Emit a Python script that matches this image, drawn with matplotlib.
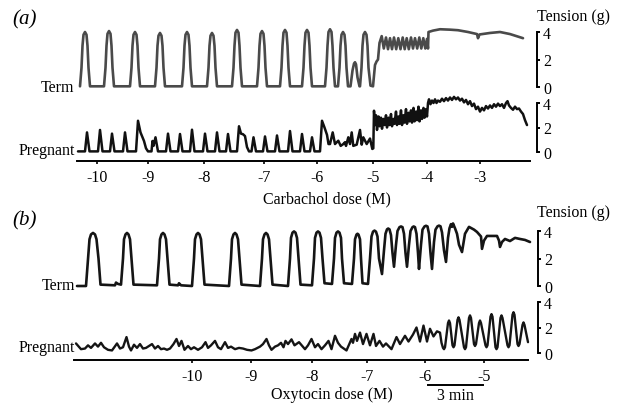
import matplotlib

matplotlib.use("Agg")
import matplotlib.pyplot as plt
import matplotlib.transforms as mtransforms
import numpy as np

plt.rcParams["font.family"] = ["Liberation Serif", "DejaVu Serif"]

# Traces: (time in chart units, tension in g).
# 55 chart units = 3 min (see the scale bar).
TERM_A = [
    (80, 0.05), (81.5, 1.4), (82.5, 3.0), (83.5, 3.8), (85, 4.0), (86.5, 3.8), (87.5, 3.0), (88.5, 1.4), (90, 0.05),
    (104, 0.05), (105.5, 1.4), (106.5, 3.0), (107.5, 3.87), (109, 4.07), (110.5, 3.87), (111.5, 3.0), (112.5, 1.4), (114, 0.05),
    (130, 0.05), (131.5, 1.4), (132.5, 3.0), (133.5, 3.8), (135, 4.0), (136.5, 3.8), (137.5, 3.0), (138.5, 1.4), (140, 0.05),
    (155, 0.05), (156.5, 1.4), (157.5, 3.0), (158.5, 3.73), (160, 3.93), (161.5, 3.73), (162.5, 3.0), (163.5, 1.4), (165, 0.05),
    (182, 0.05), (183.5, 1.4), (184.5, 3.0), (185.5, 3.8), (187, 4.0), (188.5, 3.8), (189.5, 3.0), (190.5, 1.4), (192, 0.05),
    (207, 0.05), (208.5, 1.4), (209.5, 3.0), (210.5, 3.73), (212, 3.93), (213.5, 3.73), (214.5, 3.0), (215.5, 1.4), (217, 0.05),
    (232, 0.05), (233.5, 1.4), (234.5, 3.0), (235.5, 3.95), (237, 4.15), (238.5, 3.95), (239.5, 3.0), (240.5, 1.4), (242, 0.05),
    (257, 0.05), (258.5, 1.4), (259.5, 3.0), (260.5, 3.87), (262, 4.07), (263.5, 3.87), (264.5, 3.0), (265.5, 1.4), (267, 0.05),
    (280, 0.05), (281.5, 1.4), (282.5, 3.0), (283.5, 3.95), (285, 4.15), (286.5, 3.95), (287.5, 3.0), (288.5, 1.4), (290, 0.05),
    (302, 0.05), (303.5, 1.4), (304.5, 3.0), (305.5, 3.95), (307, 4.15), (308.5, 3.95), (309.5, 3.0), (310.5, 1.4), (312, 0.05),
    (325, 0.05), (326.5, 1.4), (327.5, 3.0), (328.5, 4.0), (330, 4.2), (331.5, 4.0), (332.5, 3.0), (333.5, 1.4), (335, 0.05),
    (338, 0.05), (339.5, 1.4), (340.5, 3.0), (341.5, 3.8), (343, 4.0), (344.5, 3.8), (345.5, 3.0), (346.5, 1.4), (348, 0.05),
    (350.5, 0.05), (352.5, 1.2), (354, 1.7), (355, 1.8), (356, 1.65), (357.5, 0.7), (359.5, 0.05),
    (360, 0.05), (361.5, 1.4), (362.5, 3.0), (363.5, 3.8), (365, 4.0), (366.5, 3.8), (367.5, 3.0), (368.5, 1.4), (370.5, 0.1),
    (373, 0.05), (375, 1.6), (376.5, 1.85), (378, 2.0), (379.5, 3.2),
    (381.7, 3.7), (383.8, 2.8), (386, 3.6), (388, 2.75), (390, 3.55), (392, 2.75),
    (394, 3.6), (396.2, 2.75), (398.3, 3.55), (400.5, 2.75), (402.7, 3.6), (404.7, 2.75),
    (406.7, 3.55), (408.8, 2.75), (411, 3.6), (413, 2.8), (415, 3.55), (417.2, 2.8),
    (419.3, 3.6), (421.3, 2.8), (423.3, 3.55), (425.3, 2.8), (427, 3.5), (428, 2.8),
    (428.5, 4.0), (433, 4.1), (440, 4.2), (450, 4.17), (458, 4.13), (468, 4.0),
    (477, 3.85), (478, 3.55), (479.5, 3.82), (490, 3.93), (500, 4.0), (510, 3.85), (523, 3.55),
]

PREG_A = [
    (78, 0.05),
    (85, 0.05), (87, 1.6), (89.5, 0.05),
    (98, 0.05), (100, 1.8), (102.5, 0.05),
    (110, 0.05), (112, 1.5), (114.5, 0.05),
    (123, 0.05), (125, 1.6), (127.5, 0.05),
    (136, 0.05), (138, 2.55), (140.5, 1.6), (142, 1.3), (144, 0.9), (146, 0.3), (148, 0.05),
    (151.5, 0.05), (152.5, 0.9), (153.5, 0.5), (155.5, 1.2), (158, 0.05),
    (166, 0.05), (168, 1.5), (170.5, 0.05),
    (178, 0.05), (180, 1.47), (182.5, 0.05),
    (190, 0.05), (192, 1.82), (194.5, 0.05),
    (203, 0.05), (205, 1.5), (207.5, 0.05),
    (215, 0.05), (217, 1.6), (219.5, 0.05),
    (226, 0.05), (228, 1.47), (230.5, 0.05),
    (237, 0.05), (239, 2.1), (241, 1.5), (243, 1.45), (245, 1.3), (247, 0.4), (249, 0.05),
    (251.5, 0.05), (253.5, 1.2), (256, 0.05),
    (263, 0.05), (265, 1.27), (267.5, 0.05),
    (275, 0.05), (277, 1.35), (279.5, 0.05),
    (288, 0.05), (290, 1.71), (292.5, 0.05),
    (300, 0.05), (302, 1.47), (304.5, 0.05),
    (310, 0.05), (312, 1.2), (314.5, 0.05),
    (320, 0.05), (322, 2.55), (324.5, 2.0), (327, 1.4), (328.5, 0.65),
    (330, 0.65), (332.7, 1.6), (335, 0.65), (338.3, 0.92), (340.7, 0.5), (343.3, 0.65),
    (345, 0.8), (346, 0.5), (348.3, 1.2), (350, 0.65), (351.7, 1.6), (353.3, 0.5),
    (356.7, 0.6), (360, 1.8), (361.7, 0.6), (363.3, 1.2), (366.7, 0.65), (370, 1.1),
    (372.3, 0.25), (373.3, 0.3), (374, 3.37),
    (375, 2.2), (376, 3.0), (377, 1.8), (378.5, 2.9), (379.5, 2.1), (381, 2.8), (382, 1.9),
    (383.5, 2.7), (384.5, 2.2), (386, 3.0), (387, 2.0), (388.5, 2.8), (389.5, 2.2), (391, 3.1),
    (392, 2.1), (393.5, 2.7), (394.5, 2.3), (396, 3.3), (397, 2.2), (398.5, 2.9), (399.5, 2.3),
    (401, 3.4), (402, 2.2), (403.5, 3.0), (404.5, 2.4), (406, 3.5), (407, 2.3), (408.5, 3.2),
    (409.5, 2.5), (411, 3.4), (412, 2.4), (413.5, 3.6), (414.5, 2.5), (416, 3.3), (417, 2.6),
    (418.5, 3.7), (419.5, 2.5), (421, 3.4), (422, 2.7), (423.5, 3.6), (424.5, 2.8), (426, 3.5),
    (427, 2.9), (428, 4.0),
    (429, 4.3), (430.5, 3.9), (432, 4.2), (433.5, 4.0), (435, 4.3), (436.5, 4.0), (438, 4.2),
    (440, 4.1), (442, 4.35), (444, 4.15), (446, 4.4), (448, 4.2), (450, 4.45), (452, 4.25),
    (454, 4.5), (456, 4.3), (458, 4.45), (460, 4.2), (462, 4.35), (464, 4.05), (466, 4.25),
    (468, 3.9), (470, 4.15), (472, 3.75), (474, 3.95), (476, 3.5), (478, 3.7), (480, 3.3),
    (482, 3.6), (484, 3.4), (486, 3.75), (488, 3.55), (490, 3.8), (492, 3.6), (494, 3.9),
    (496, 3.7), (498, 3.95), (500, 3.75), (502, 3.9), (504, 3.6), (506, 4.0), (507.5, 4.15),
    (509, 3.8), (511, 3.6), (513, 3.45), (515, 3.7), (517, 3.5), (519, 3.55), (521, 3.3),
    (523, 3.1), (525, 2.6), (527, 2.2),
]

TERM_B = [
    (77, 0.0),
    (86, 0.0), (88, 2.0), (89.5, 3.4), (91, 3.75), (93, 3.86), (95, 3.75), (96.5, 3.4), (98.5, 2.0), (100.5, 0.1),
    (115, 0.05), (116, 0.25), (118, 0.15),
    (121, 0.1), (123, 2.0), (124, 3.4), (125.5, 3.75), (127, 3.86), (128.5, 3.75), (130, 3.4), (131.5, 2.0), (133.5, 0.1),
    (157, 0.05), (159, 2.0), (160, 3.4), (161.5, 3.75), (163, 3.86), (164.5, 3.75), (166, 3.4), (167.5, 2.0), (169.5, 0.1),
    (178, 0.05), (179, 0.2), (181, 0.05),
    (192, 0.0), (194, 2.0), (195, 3.4), (196.5, 3.75), (198, 3.86), (199.5, 3.75), (201, 3.4), (202.5, 2.0), (204.5, 0.1),
    (229, 0.0), (231, 2.0), (232, 3.4), (233.5, 3.75), (235, 3.86), (236.5, 3.75), (238, 3.4), (239.5, 2.0), (241.5, 0.1),
    (260, 0.0), (262, 2.0), (263, 3.4), (264.5, 3.75), (266, 3.86), (267.5, 3.75), (269, 3.4), (270.5, 2.0), (272.5, 0.1),
    (288, 0.0), (290, 2.0), (291, 3.5), (292.5, 3.88), (294, 3.97), (295.5, 3.88), (297, 3.5), (298.5, 2.0), (300.5, 0.1),
    (312, 0.05), (314, 2.0), (315, 3.5), (316.5, 3.88), (318, 3.97), (319.5, 3.88), (321, 3.5), (322.5, 2.0),
    (324.5, 0.2), (332, 0.15),
    (334, 2.0), (335, 3.5), (336.5, 3.88), (338, 3.97), (339.5, 3.88), (341, 3.5), (342, 2.0), (344, 0.2), (352, 0.15),
    (354, 2.0), (355, 3.4), (356.5, 3.74), (357.5, 3.8), (358.5, 3.74), (360, 3.4), (361, 2.0), (362.5, 0.2), (368, 0.15),
    (370, 2.0), (371.5, 3.6), (373, 3.95), (374.5, 4.03), (376, 3.95), (377.5, 3.6), (379, 2.0), (382, 0.87),
    (384, 2.6), (385.5, 3.8), (387, 4.12), (388.2, 4.18), (389.5, 4.12), (391, 3.7), (392.5, 2.4), (394, 1.4),
    (396, 3.0), (397.5, 4.0), (399.5, 4.28), (401, 4.33), (402.5, 4.28), (404, 3.8), (405.5, 2.4), (407, 1.4),
    (409, 3.0), (410.5, 4.0), (412.5, 4.28), (413.7, 4.33), (415, 4.28), (416.5, 3.8), (418, 2.4), (419, 1.24),
    (421, 3.0), (422.5, 4.1), (424.5, 4.33), (426, 4.38), (427.5, 4.33), (429, 3.8), (430.5, 2.4), (432, 1.24),
    (434, 3.2), (435.5, 4.1), (437.5, 4.34), (439, 4.39), (440.5, 4.34), (442, 3.9), (444, 2.6), (446, 1.75),
    (448, 3.5), (449.5, 4.2), (451, 4.5), (452, 4.3), (453, 4.55), (455, 4.2), (457, 3.8),
    (459, 3.0), (462, 2.47),
    (465, 3.8), (469, 4.3), (474, 4.1), (477, 3.93), (481, 3.6), (482, 2.7), (484, 3.3),
    (487, 3.64), (497, 3.64), (499, 3.3), (500, 2.84), (502, 3.2), (505, 3.42), (510, 3.27),
    (515, 3.5), (520, 3.42), (525, 3.35), (530, 3.2),
]

PREG_B = [
    (76, 0.75), (81, 0.3), (85, 0.35), (88, 0.6), (91, 0.4), (95, 0.75), (98, 0.5),
    (101, 0.8), (104, 0.45), (108, 0.25), (112, 0.2), (117, 0.75), (120, 0.35), (123, 0.45),
    (126.5, 1.25), (129, 0.5), (131, 0.2), (134, 0.65), (137, 0.4), (140, 0.7), (143, 0.35),
    (146, 0.4), (149, 0.55), (152, 0.7), (155, 0.35), (158, 0.55), (161, 0.3), (164, 0.35),
    (167, 0.25), (170, 0.35), (173.5, 0.7), (176.5, 1.1), (179, 0.55), (181.5, 0.95),
    (184.5, 0.25), (188, 0.55), (191, 0.3), (194, 0.45), (198, 0.25), (202, 0.45),
    (205.5, 0.85), (208, 0.4), (211, 0.6), (215, 0.95), (218, 0.45), (221, 0.3), (225, 0.85),
    (228, 0.4), (231, 0.5), (235, 0.3), (239, 0.4), (243, 0.35), (247, 0.25), (251.5, 0.2),
    (255, 0.3), (260, 0.5), (263, 0.7), (266.5, 1.1), (269, 0.6), (271.5, 0.25), (275, 0.5),
    (278, 0.6), (281, 0.8), (283.5, 0.45), (285.5, 0.95), (288, 0.7), (291.5, 1.07),
    (294.5, 0.6), (299, 0.85), (305, 0.3), (308, 0.6), (311.5, 1.1), (315, 0.45), (318, 0.7),
    (321.5, 0.3), (325, 0.6), (328.5, 0.95), (331.5, 0.3), (335, 1.35), (338, 0.8), (341, 0.5),
    (346.5, 0.2), (351.5, 1.1), (353, 0.8), (355, 1.5), (357, 0.95), (360, 1.6), (363, 0.7),
    (366.5, 1.5), (370, 0.6), (373.5, 1.5), (376, 0.55), (379.5, 0.95), (383, 0.5), (386, 0.75),
    (391.5, 0.3), (396.5, 1.25), (400, 0.7), (405, 1.35), (408.5, 0.9), (413, 1.45),
    (416.5, 2.0), (420, 0.9), (423.5, 2.15), (427, 0.9), (430, 1.9), (433.5, 1.3), (437, 1.7),
    (440, 1.6), (441.5, 0.8),
    (443, 0.4), (444, 0.3), (445, 0.45), (448, 2.35), (449, 2.55), (450, 2.35),
    (452.5, 0.6), (453.5, 0.45), (454.5, 0.6), (457.5, 2.6), (458.5, 2.8), (459.5, 2.6),
    (464, 0.45), (465, 0.3), (466, 0.45), (469, 2.75), (470, 2.95), (471, 2.75),
    (474, 0.7), (475, 0.55), (476, 0.7), (479, 2.35), (480, 2.55), (481, 2.35),
    (485.5, 0.6), (486.5, 0.45), (487.5, 0.6), (490.5, 2.85), (491.5, 3.05), (492.5, 2.85),
    (495.5, 0.45), (496.5, 0.3), (497.5, 0.45), (500.5, 2.75), (501.5, 2.95), (502.5, 2.75),
    (507.5, 0.6), (508.5, 0.45), (509.5, 0.6), (512.5, 3.0), (513.5, 3.2), (514.5, 3.0),
    (517.5, 0.7), (518.5, 0.55), (519.5, 0.7), (522.5, 2.2), (523.5, 2.4), (524.5, 2.2),
    (528, 0.85),
]

# dose additions (log M) and the chart time at which each was given
CARBACHOL_TIMES = [96.7, 148.3, 204.3, 264.3, 316.7, 373.3, 426.7, 480]
CARBACHOL_LABELS = ["-10", "-9", "-8", "-7", "-6", "-5", "-4", "-3"]
OXYTOCIN_TIMES = [191.7, 251, 311.7, 367.3, 425, 484]
OXYTOCIN_LABELS = ["-10", "-9", "-8", "-7", "-6", "-5"]

SCALE_BAR_START = 428
UNITS_PER_3MIN = 55

W, H = 624, 406
FS = 11.5


def box(left, right, top, bottom):
    return [left / W, 1 - bottom / H, (right - left) / W, (bottom - top) / H]


def fig_text(fig, x, y, s, **kw):
    kw.setdefault("fontsize", FS)
    fig.text(x / W, 1 - y / H, s, **kw)


def trace_axes(fig, rect, xlim, trace, color, lw, doses=None, axis_end=None, outward=0):
    ax = fig.add_axes(rect)
    t, g = np.array(trace).T
    ax.plot(t, g, color=color, lw=lw, clip_on=False,
            solid_joinstyle="round", solid_capstyle="round")
    ax.set_xlim(*xlim)
    ax.set_ylim(0, 4)
    ax.patch.set_visible(False)
    ax.spines["top"].set_visible(False)
    ax.spines["left"].set_visible(False)
    ax.spines["right"].set_bounds(0, 4)
    ax.spines["right"].set_linewidth(1.4)
    ax.yaxis.tick_right()
    ax.set_yticks([0, 2, 4], ["0", "2", "4"])
    ax.tick_params(axis="y", direction="out", length=2.5, width=1.4,
                   pad=1.8, labelsize=FS)
    if doses is None:
        ax.spines["bottom"].set_visible(False)
        ax.set_xticks([])
    else:
        times, labels = doses
        ax.spines["bottom"].set_position(("outward", outward))
        ax.spines["bottom"].set_bounds(xlim[0], axis_end)
        ax.spines["bottom"].set_linewidth(1.4)
        ax.set_xticks(times, labels)
        ax.tick_params(axis="x", direction="out", length=2.2, width=1.2,
                       pad=3.4, labelsize=FS)
    return ax


def main() -> None:
    fig = plt.figure(figsize=(W / 100, H / 100), dpi=100)

    # (a) carbachol
    trace_axes(fig, box(77, 537, 33, 88), (77, 537), TERM_A, "#4a4a4a", 1.9)
    trace_axes(fig, box(77, 537, 104, 153), (77, 537), PREG_A, "#111111", 1.8,
               doses=(CARBACHOL_TIMES, CARBACHOL_LABELS), axis_end=530, outward=6.5)

    # (b) oxytocin
    trace_axes(fig, box(74, 538, 232, 287), (74, 538), TERM_B, "#151515", 1.9)
    ax_pb = trace_axes(fig, box(74, 538, 303, 354), (74, 538), PREG_B, "#151515", 1.7,
                       doses=(OXYTOCIN_TIMES, OXYTOCIN_LABELS), axis_end=528, outward=5)

    # 3 min time-scale bar
    trans = mtransforms.blended_transform_factory(ax_pb.transData, fig.transFigure)
    ax_pb.plot([SCALE_BAR_START, SCALE_BAR_START + UNITS_PER_3MIN],
               [1 - 386 / H] * 2, color="black", lw=1.4,
               transform=trans, clip_on=False)
    fig_text(fig, 455, 400, "3 min", ha="center", va="baseline")

    fig_text(fig, 12, 24, "(a)", style="italic", fontsize=15, ha="left", va="baseline")
    fig_text(fig, 12, 225, "(b)", style="italic", fontsize=15, ha="left", va="baseline")
    fig_text(fig, 74, 91.5, "Term", ha="right", va="baseline")
    fig_text(fig, 75, 155.5, "Pregnant", ha="right", va="baseline")
    fig_text(fig, 75, 290.5, "Term", ha="right", va="baseline")
    fig_text(fig, 75, 352, "Pregnant", ha="right", va="baseline")
    fig_text(fig, 537, 21, "Tension (g)", ha="left", va="baseline")
    fig_text(fig, 537, 217.5, "Tension (g)", ha="left", va="baseline")
    fig_text(fig, 327, 203, "Carbachol dose (M)", ha="center", va="baseline")
    fig_text(fig, 332, 399.5, "Oxytocin dose (M)", ha="center", va="baseline")

    fig.savefig("out.png", dpi=100)
    plt.close(fig)


if __name__ == "__main__":
    main()
